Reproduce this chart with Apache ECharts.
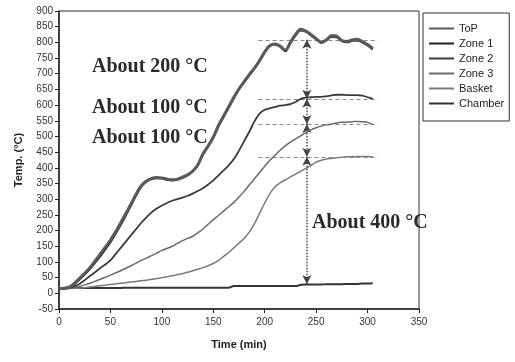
<!DOCTYPE html>
<html>
<head>
<meta charset="utf-8">
<script src="https://cdn.jsdelivr.net/npm/echarts@6/dist/echarts.min.js"></script>
<style>html,body{margin:0;padding:0;background:#fff;}#c{width:515px;height:362px;}</style>
</head>
<body>
<div id="c"></div>
<script>
// time in minutes (5-minute steps)
var times = [0,5,10,15,20,25,30,35,40,45,50,55,60,65,70,75,80,85,90,95,100,105,110,115,120,125,130,135,140,145,150,155,160,165,170,175,180,185,190,195,200,205,210,215,220,225,230,235,240,245,250,255,260,265,270,275,280,285,290,295,300,305];

var seriesNames = ['ToP','Zone 1','Zone 2','Zone 3','Basket','Chamber'];

var topVals = [15,16,20,32,48,64,82,103,125,147,170,196,225,255,285,317,343,358,366,369,368,364,362,364,370,378,390,410,445,470,498,535,565,595,625,652,675,697,718,742,770,790,795,788,775,800,825,842,836,825,812,800,808,822,820,806,803,808,810,802,793,780];
var zone1Vals = [15,16,19,29,44,60,77,97,118,140,163,190,218,248,280,312,340,356,364,367,366,362,360,362,368,376,388,408,442,468,495,532,562,592,622,650,673,695,716,740,768,788,793,786,772,798,822,838,834,822,810,798,806,818,816,804,800,805,806,799,790,777];
var zone2Vals = [15,15,18,23,30,42,55,67,80,92,105,125,145,165,185,205,225,242,258,270,280,288,295,300,305,311,318,326,335,347,360,376,392,408,428,455,485,515,548,573,585,590,594,598,600,603,610,620,624,625,626,626,628,631,633,633,632,632,632,630,625,620];
var zone3Vals = [15,15,16,19,22,27,32,38,45,51,58,65,72,80,88,96,105,112,120,128,137,143,150,159,168,175,182,193,205,220,235,248,262,276,290,307,325,345,365,385,405,424,440,456,470,482,492,502,512,521,528,533,537,540,543,545,546,547,548,547,545,538];
var basketVals = [15,15,15,16,17,18,20,22,24,26,28,30,32,34,36,38,40,42,45,47,50,53,56,59,63,67,72,77,82,88,95,105,118,130,145,160,175,195,222,255,288,318,340,352,362,371,380,389,398,408,418,424,428,430,432,434,435,435,436,436,436,435];
var chamberVals = [15,16,17,17,17,17,17,17,17,17,17,17,17,18,18,18,18,18,18,18,18,18,18,18,18,18,18,18,18,18,18,18,18,18,23,23,23,23,23,23,23,23,23,23,23,23,23,27,28,28,28,28,29,29,29,29,30,30,30,31,31,32];

// annotation levels (°C) and arrow position (min)
var refLevels = [808, 620, 540, 435];
var arrowBase = 30;
var arrowTime = 241;
var refStart = 194, refEnd = 310;
var annoTexts = ['About 200 °C','About 100 °C','About 100 °C','About 400 °C'];

var yTicks = {min:-50, max:900, interval:50};
var xTicks = {min:0, max:350, interval:50};

function pairs(vals){ return times.map(function(t,i){ return [t, vals[i]]; }); }

var refLineData = refLevels.map(function(v){ return [{coord:[refStart,v]},{coord:[refEnd,v]}]; });
var arrowStops = refLevels.concat([arrowBase]);
var arrowData = [];
for (var i=0;i<arrowStops.length-1;i++){ arrowData.push([{coord:[arrowTime,arrowStops[i]]},{coord:[arrowTime,arrowStops[i+1]]}]); }

var colors = ['#5a5a5a','#1e1e1e','#3a3a3a','#6a6a6a','#7a7a7a','#333333'];
var widths = [3,2,1.8,1.5,1.5,2];
var allVals = [topVals,zone1Vals,zone2Vals,zone3Vals,basketVals,chamberVals];

var series = seriesNames.map(function(n,i){
  return {name:n,type:'line',data:pairs(allVals[i]),symbol:'none',smooth:0.3,
    lineStyle:{color:colors[i],width:widths[i]},itemStyle:{color:colors[i]},z:3+(5-i)};
});
series.push({name:'refs',type:'line',data:[],silent:true,
  markLine:{silent:true,symbol:['none','none'],label:{show:false},
    lineStyle:{type:[4,3],color:'#888',width:1.2},data:refLineData}});
series.push({name:'arrows',type:'line',data:[],silent:true,
  markLine:{silent:true,symbol:['arrow','arrow'],symbolSize:[7,9],label:{show:false},
    lineStyle:{type:'dotted',color:'#444',width:1.5},data:arrowData}});

var chart = echarts.init(document.getElementById('c'),null,{renderer:'canvas'});
var lblFont = {fontFamily:'Liberation Serif',fontWeight:'bold',fontSize:20,fill:'#2a2a2a'};
chart.setOption({
  animation:false,
  backgroundColor:'#fff',
  grid:{left:59,right:96,top:11,bottom:53,show:true,borderColor:'#333',borderWidth:1},
  legend:{data:seriesNames.map(function(n){return {name:n,icon:'path://M0,0H25V2H0Z'};}),
    orient:'vertical',left:423,top:13,itemWidth:25,itemHeight:10,itemGap:4,
    padding:[10,5,12,6],borderColor:'#333',borderWidth:1,
    textStyle:{fontFamily:'Liberation Sans',fontSize:11,color:'#222'}},
  xAxis:{type:'value',min:xTicks.min,max:xTicks.max,interval:xTicks.interval,
    name:'Time (min)',nameLocation:'middle',nameGap:30,
    nameTextStyle:{fontFamily:'Liberation Sans',fontWeight:'bold',fontSize:11,color:'#222'},
    axisLine:{onZero:false,lineStyle:{color:'#222',width:1.5}},axisTick:{inside:false,length:4,lineStyle:{color:'#222'}},
    axisLabel:{fontFamily:'Liberation Sans',fontSize:10,color:'#333',margin:8},splitLine:{show:false}},
  yAxis:{type:'value',min:yTicks.min,max:yTicks.max,interval:yTicks.interval,
    name:'Temp. (°C)',nameLocation:'middle',nameGap:35,
    nameTextStyle:{fontFamily:'Liberation Sans',fontWeight:'bold',fontSize:11,color:'#222'},
    axisLine:{onZero:false,lineStyle:{color:'#222',width:1.5}},axisTick:{inside:false,length:4,lineStyle:{color:'#222'}},
    axisLabel:{fontFamily:'Liberation Sans',fontSize:10,color:'#333',margin:6},splitLine:{show:false}},
  series:series,
  graphic:[
    {type:'text',left:92,top:57,style:Object.assign({text:annoTexts[0]},lblFont)},
    {type:'text',left:92,top:98,style:Object.assign({text:annoTexts[1]},lblFont)},
    {type:'text',left:92,top:128,style:Object.assign({text:annoTexts[2]},lblFont)},
    {type:'text',left:312,top:213,style:Object.assign({text:annoTexts[3]},lblFont)}
  ]
});
</script>
</body>
</html>
